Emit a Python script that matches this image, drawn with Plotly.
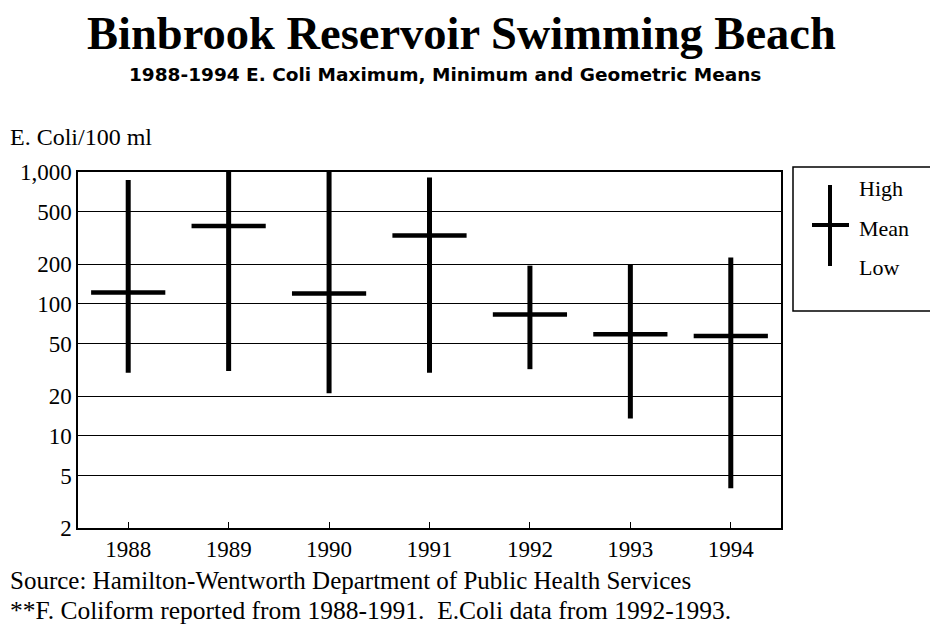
import plotly.graph_objects as go

years = ["1988", "1989", "1990", "1991", "1992", "1993", "1994"]
high = [870, 1000, 1000, 910, 195, 200, 225]
low = [30, 31, 21, 30, 32, 13.5, 4]
mean = [122, 390, 120, 330, 83, 59, 57]

ytick_vals = [2, 5, 10, 20, 50, 100, 200, 500, 1000]
ytick_text = ["2", "5", "10", "20", "50", "100", "200", "500", "1,000"]

err_plus = [h - m for h, m in zip(high, mean)]
err_minus = [m - l for m, l in zip(mean, low)]

fig = go.Figure()
fig.add_trace(go.Scatter(
    x=years, y=mean, mode="markers",
    marker=dict(symbol="line-ew", size=53, color="black",
                line=dict(color="black", width=4.5)),
    error_y=dict(type="data", symmetric=False, array=err_plus,
                 arrayminus=err_minus, color="black", thickness=5, width=0),
    showlegend=False, cliponaxis=False,
))

serif = "Liberation Serif"
OFF = 8  # page body margin
FW, FH = 930, 619
L, R, T, B = 78, 781, 172, 528
W, H = R - L, B - T
def px(x):
    return (x - L) / W
def py(y):
    return (B - y) / H

def ann(text, x, y, size, family=serif, xanchor="left"):
    return dict(text=text, x=px(x), y=py(y), xref="paper", yref="paper",
                font=dict(family=family, size=size, color="black"), showarrow=False,
                xanchor=xanchor, yanchor="middle")

annotations = [
    ann("<b>Binbrook Reservoir Swimming Beach</b>", 461, 33, 46.5, xanchor="center"),
    ann("<b>1988-1994 E. Coli Maximum, Minimum and Geometric Means</b>", 445, 75, 18.5,
        family="DejaVu Sans", xanchor="center"),
    ann("E. Coli/100 ml", 8, 137, 24),
    ann("Source: Hamilton-Wentworth Department of Public Health Services", 8, 580, 25),
    ann("**F. Coliform reported from 1988-1991.  E.Coli data from 1992-1993.", 8, 610, 25.5),
    ann("High", 857, 188, 22),
    ann("Mean", 857, 228, 22),
    ann("Low", 857, 267, 22),
]

shapes = [
    dict(type="rect", xref="paper", yref="paper", x0=px(793), x1=px(936),
         y0=py(311), y1=py(167), line=dict(color="black", width=1.5)),
    dict(type="line", xref="paper", yref="paper", x0=px(830), x1=px(830),
         y0=py(266), y1=py(185), line=dict(color="black", width=4)),
    dict(type="line", xref="paper", yref="paper", x0=px(812), x1=px(849),
         y0=py(225), y1=py(225), line=dict(color="black", width=4)),
]

fig.update_layout(
    width=FW, height=FH,
    margin=dict(l=L - OFF, r=FW - (R - OFF), t=T - OFF, b=FH - (B - OFF), pad=0,
                autoexpand=False),
    paper_bgcolor="white", plot_bgcolor="white",
    annotations=annotations, shapes=shapes,
    xaxis=dict(type="category", range=[-0.5, 6.5], showgrid=False,
               showline=True, mirror=True, linecolor="black", linewidth=1.5,
               ticks="inside", ticklen=6, tickcolor="black",
               tickfont=dict(family=serif, size=23, color="black")),
    yaxis=dict(type="log", range=[0.30103, 3], tickvals=ytick_vals, ticktext=ytick_text,
               showgrid=True, gridcolor="black", gridwidth=1.2,
               showline=True, mirror=True, linecolor="black", linewidth=1.5,
               ticks="", tickfont=dict(family=serif, size=23, color="black")),
)

fig.write_html("out.html")
